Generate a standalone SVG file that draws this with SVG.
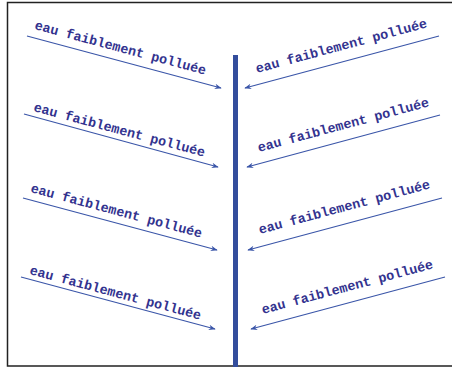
<svg xmlns="http://www.w3.org/2000/svg" width="452" height="367" viewBox="0 0 452 367">
<defs>
<style>
.t{font-family:"Liberation Mono","Courier New",monospace;font-weight:bold;font-size:13.4px;fill:#33338f}
.a{stroke:#3a55a8;stroke-width:1.2;fill:none;marker-end:url(#ah)}
.frame{stroke:#222;stroke-width:1.5;fill:none}
</style>
<marker id="ah" viewBox="0 0 10 10" refX="9" refY="5" markerWidth="7" markerHeight="7" markerUnits="userSpaceOnUse" orient="auto">
<path d="M0,1 L10,5 L0,9 L3,5 Z" fill="#3a55a8"/>
</marker>
</defs>
<rect width="452" height="367" fill="#fff"/>
<path class="frame" d="M452,2.5 H7.5 V366 H452"/>
<g id="bar"><rect x="233" y="55" width="5" height="312" fill="#334d9c"/></g>
<g id="connectors">
<line class="a" x1="27" y1="36" x2="221" y2="88"/>
<line class="a" x1="24" y1="114" x2="218" y2="167"/>
<line class="a" x1="23" y1="198" x2="217" y2="250"/>
<line class="a" x1="21" y1="277" x2="215" y2="329"/>
<line class="a" x1="439" y1="36" x2="245" y2="88"/>
<line class="a" x1="440" y1="115" x2="247" y2="167"/>
<line class="a" x1="442" y1="198" x2="248" y2="250"/>
<line class="a" x1="445" y1="277" x2="251" y2="329"/>
</g>
<g id="l1"><text class="t" transform="translate(34,29) rotate(15)">eau faiblement polluée</text></g>
<g id="l2"><text class="t" transform="translate(33,111) rotate(15)">eau faiblement polluée</text></g>
<g id="l3"><text class="t" transform="translate(30,192) rotate(15)">eau faiblement polluée</text></g>
<g id="l4"><text class="t" transform="translate(29,274) rotate(15)">eau faiblement polluée</text></g>
<g id="r1"><text class="t" transform="translate(257,73) rotate(-15)">eau faiblement polluée</text></g>
<g id="r2"><text class="t" transform="translate(259,152) rotate(-15)">eau faiblement polluée</text></g>
<g id="r3"><text class="t" transform="translate(260,234) rotate(-15)">eau faiblement polluée</text></g>
<g id="r4"><text class="t" transform="translate(263,314) rotate(-15)">eau faiblement polluée</text></g>
</svg>
